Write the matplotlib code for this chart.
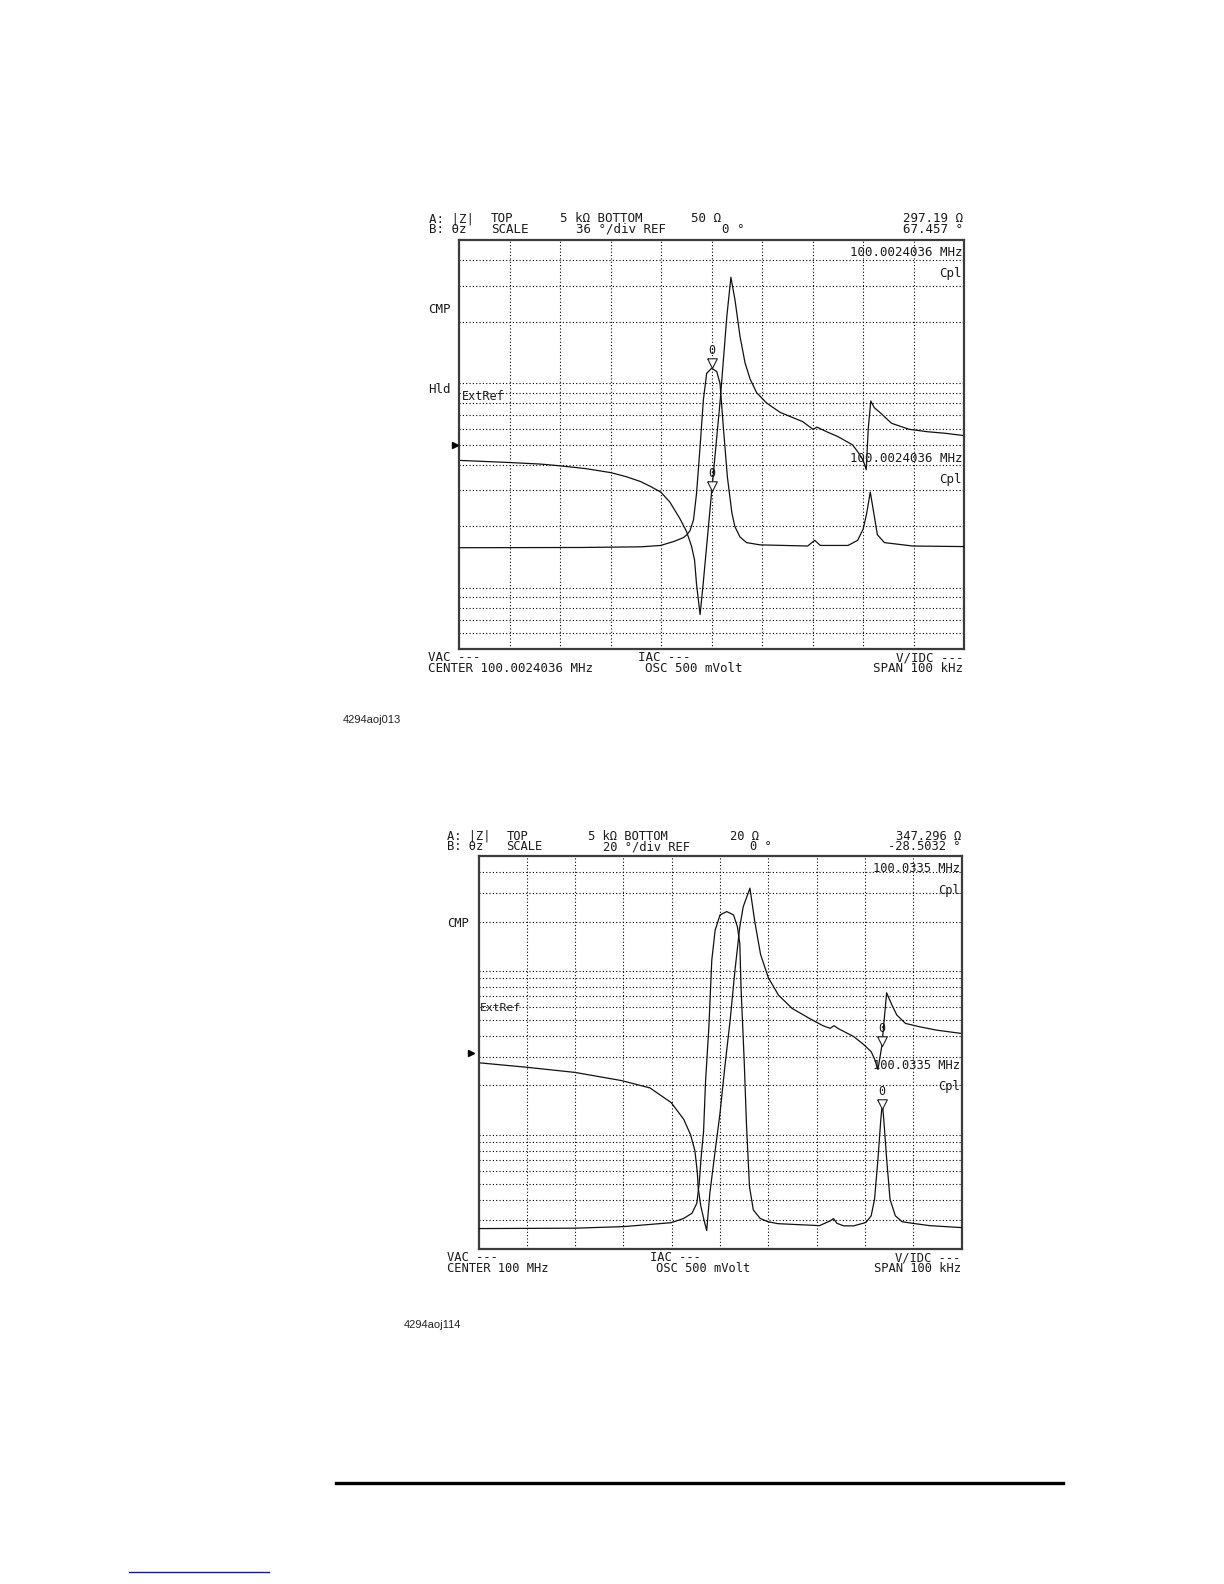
import matplotlib
matplotlib.use("Agg")
import matplotlib.pyplot as plt
from matplotlib.ticker import FixedLocator, NullLocator
from matplotlib.transforms import blended_transform_factory
from matplotlib.lines import Line2D

W, H = 1224, 1584
MONO = "DejaVu Sans Mono"

# ---- data: top screen (center 100.0024036 MHz, span 100 kHz), x in kHz from center
top_f_z = [-50, -45, -40, -34, -30, -25, -20, -17, -14.1, -12.1, -10.1, -8.3, -6.3, -5.0, -4.0,
           -3.4, -3.0, -2.3, -1.7, 0, 1.7, 3.0, 3.8, 4.6, 5.6, 6.6, 7.6, 8.9, 10.9, 13.6, 18,
           20.1, 20.8, 21.5, 22.9, 25, 27.9, 29.0, 30.0, 30.6, 31.0, 31.5, 32.2, 33.5, 35.6,
           39.1, 42.7, 46.2, 50]
top_z = [420, 415, 410, 403, 395, 383, 366, 350, 331, 313, 294, 263, 218, 189, 160,
         137, 104, 74, 104, 297, 835, 2130, 3300, 2570, 1700, 1260, 1050, 900, 800, 720, 650,
         595, 611, 600, 578, 549, 500, 460, 420, 378, 600, 820, 760, 714, 638,
         596, 580, 570, 555]
top_f_th = [-50, -26, -14, -10.1, -7.5, -5.6, -4.9, -4.3, -3.6, -3.0, -2.3, -1.65, -1.0, 0, 1.0,
            1.65, 2.3, 3.1, 4.0, 4.6, 5.6, 6.9, 9.6, 19.0, 20.4, 21.5, 27.0, 28.9, 30.0, 30.7,
            31.4, 32.1, 32.8, 34.2, 39.8, 50]
top_th = [-90.5, -90.3, -89.7, -88.5, -85, -81.6, -79, -75.5, -66, -42.6, -1.6, 39.5, 63, 67.5, 64.5,
          54, 16, -28, -60, -72, -81, -86, -88, -89, -84, -88.5, -88.5, -84, -74, -60,
          -41.5, -60, -79, -86, -89, -89.5]
top_grid_z = [60, 70, 80, 90, 100, 200, 300, 400, 500, 600, 700, 800, 900, 1000, 2000, 3000, 4000]
top_marker_f = 0.0
top_marker_z = 297.19
top_marker_th = 67.457

# ---- data: bottom screen (center 100 MHz, span 100 kHz)
bot_f_z = [-50, -40, -30, -20.4, -14.5, -10.1, -7.5, -6.1, -5.2, -4.7, -4.5, -4.0, -3.3, -2.75,
           -2.1, -1.0, 0, 1.0, 2.1, 3.1, 4.1, 4.8, 6.2, 7.2, 8.4, 10.0, 12.1, 14.9, 18.5,
           21.3, 22.8, 23.6, 24.5, 27.7, 29.9, 31.3, 32.0, 32.7, 33.5, 34.5, 35.6, 36.6, 38.4,
           41.3, 44.8, 50]
bot_z = [275, 258, 240, 214, 193, 157, 124, 100, 80, 59, 47, 37, 30, 26,
         44, 80, 135, 259, 500, 1009, 1857, 2460, 3200, 2000, 1260, 910, 712, 591, 513,
         463, 446, 463, 444, 397, 352, 321, 290, 250, 347, 735, 619, 538, 478,
         456, 435, 415]
bot_f_th = [-50, -30, -20, -10.1, -7.5, -5.8, -4.8, -4.3, -3.9, -3.4, -3.0, -2.3, -1.7, -1.0, 0,
            1.4, 2.8, 3.6, 4.1, 4.35, 5.0, 5.5, 6.1, 6.9, 8.3, 9.9, 12, 20.6, 22.8, 23.5, 24.2,
            25.6, 27.7, 30.2, 31.3, 32.0, 32.7, 33.3, 33.5, 33.7, 34.0, 34.5, 35.2, 36.3, 37.7,
            39.8, 43.4, 50]
bot_th = [-89.5, -89.3, -88.5, -86.5, -84.3, -81.7, -76.6, -66.4, -53, -40, -15, 13.3, 47.2, 62.5,
          70.2, 71.9, 70.2, 64.2, 55.7, 33.6, -3.6, -37.6, -68.1, -80, -84.3, -86, -87, -88, -85.6,
          -84.4, -86.8, -88.1, -88.1, -86.4, -83, -74.5, -54.2, -33.8, -28.5, -28, -37, -54, -74.5,
          -83, -86, -86.8, -88, -89]
bot_grid_z = [30, 40, 50, 60, 70, 80, 90, 100, 200, 300, 400, 500, 600, 700, 800, 900, 1000,
              2000, 3000, 4000]
bot_marker_f = 33.5
bot_marker_z = 347.296
bot_marker_th = -28.5032

x_grid = [-40, -30, -20, -10, 0, 10, 20, 30, 40]

fig = plt.figure(figsize=(W / 100, H / 100), dpi=100)
fig.patch.set_facecolor("white")


def px_axes(l, t, r, b):
    return fig.add_axes([l / W, 1 - b / H, (r - l) / W, (b - t) / H])


def ftxt(x, y, s, ha="left", size=9.0, **kw):
    # y is the visual middle of capital letters, in pixels from the top
    fig.text(x / W, 1 - (y + 3.8) / H, s, ha=ha, va="baseline", fontsize=size,
             family=MONO, color="#1a1a1a", **kw)


tri = [(-0.5, 1.0), (0.5, 1.0), (0.0, 0.0), (-0.5, 1.0)]


def screen(rect, zlim, grid_z, thlim, fz, z, fth, th, mk_f, mk_z, mk_th, ref_x):
    ax = px_axes(*rect)
    ax.set_xlim(-50, 50)
    ax.set_yscale("log")
    ax.set_ylim(*zlim)
    ax.xaxis.set_major_locator(FixedLocator(x_grid))
    ax.yaxis.set_major_locator(FixedLocator(grid_z))
    ax.xaxis.set_minor_locator(NullLocator())
    ax.yaxis.set_minor_locator(NullLocator())
    ax.tick_params(which="both", length=0, labelleft=False, labelbottom=False)
    ax.grid(True, linestyle=(0, (1, 2)), linewidth=0.8, color="black")
    for sp in ax.spines.values():
        sp.set_color("#3c3c3c")
        sp.set_linewidth(1.6)
    ax.plot(fz, z, color="#111111", lw=0.9)

    ax2 = ax.twinx()
    ax2.set_ylim(*thlim)
    ax2.set_yticks([])
    for sp in ax2.spines.values():
        sp.set_visible(False)
    ax2.plot(fth, th, color="#111111", lw=0.9)

    # markers (tip of the triangle on the trace) with their number
    for a, yv in ((ax, mk_z), (ax2, mk_th)):
        a.plot([mk_f], [yv], marker=tri, ms=14, mfc="white", mec="#222222", mew=0.8,
               ls="none", zorder=5)
        a.annotate("0", (mk_f, yv), xytext=(0, 12.5), textcoords="offset points",
                   ha="center", va="center", fontsize=8.5, family=MONO, color="#1a1a1a")

    # reference position pointer left of the frame
    tr = blended_transform_factory(ax2.transAxes, ax2.transData)
    ax2.plot([ref_x], [0], marker=">", ms=5, color="black", transform=tr, clip_on=False)
    return ax, ax2


# ---------------- top screen ----------------
screen((459.2, 240.4, 964.2, 649.4), (50, 5000), top_grid_z, (-180, 180),
       top_f_z, top_z, top_f_th, top_th, top_marker_f, top_marker_z, top_marker_th, -0.009)

ftxt(429, 218.5, "A: |Z|")
ftxt(491, 218.5, "TOP")
ftxt(560, 218.5, "5 kΩ BOTTOM")
ftxt(691, 218.5, "50 Ω")
ftxt(963, 218.5, f"{top_marker_z:.2f} Ω", ha="right")
ftxt(429, 229, "B: θz")
ftxt(491, 229, "SCALE")
ftxt(576, 229, "36 °/div REF")
ftxt(722, 229, "0 °")
ftxt(963, 229, f"{top_marker_th:.3f} °", ha="right")

ftxt(428, 309, "CMP")
ftxt(428, 389.5, "Hld")
ftxt(462, 396.5, "ExtRef", size=8.5)
ftxt(962, 252.5, "100.0024036 MHz", ha="right")
ftxt(962, 273.5, "Cpl", ha="right")
ftxt(962, 458, "100.0024036 MHz", ha="right")
ftxt(962, 479, "Cpl", ha="right")

ftxt(428, 657.5, "VAC ---")
ftxt(428, 668.5, "CENTER 100.0024036 MHz")
ftxt(638, 657.5, "IAC ---")
ftxt(645, 668.5, "OSC 500 mVolt")
ftxt(963, 657.5, "V/IDC ---", ha="right")
ftxt(963, 668.5, "SPAN 100 kHz", ha="right")

fig.text(343 / W, 1 - 723 / H, "4294aoj013", family="Liberation Sans", fontsize=8,
         color="#222222", ha="left", va="baseline")

# ---------------- bottom screen ----------------
screen((478.5, 856.4, 961.5, 1249.2), (20, 5000), bot_grid_z, (-100, 100),
       bot_f_z, bot_z, bot_f_th, bot_th, bot_marker_f, bot_marker_z, bot_marker_th, -0.015)

BS = 8.7
ftxt(447, 836, "A: |Z|", size=BS)
ftxt(506.5, 836, "TOP", size=BS)
ftxt(588.5, 836, "5 kΩ BOTTOM", size=BS)
ftxt(729.5, 836, "20 Ω", size=BS)
ftxt(961, 836, f"{bot_marker_z:.3f} Ω", ha="right", size=BS)
ftxt(447, 846.5, "B: θz", size=BS)
ftxt(506.5, 846.5, "SCALE", size=BS)
ftxt(603, 846.5, "20 °/div REF", size=BS)
ftxt(750, 846.5, "0 °", size=BS)
ftxt(961, 846.5, f"{bot_marker_th:.4f} °", ha="right", size=BS)

ftxt(447, 923, "CMP", size=BS)
ftxt(480, 1007.5, "ExtRef", size=8.2)
ftxt(960, 868.5, "100.0335 MHz", ha="right", size=BS)
ftxt(960, 890, "Cpl", ha="right", size=BS)
ftxt(960, 1065, "100.0335 MHz", ha="right", size=BS)
ftxt(960, 1086.5, "Cpl", ha="right", size=BS)

ftxt(447, 1257.3, "VAC ---", size=BS)
ftxt(447, 1268, "CENTER 100 MHz", size=BS)
ftxt(650, 1257.3, "IAC ---", size=BS)
ftxt(656.5, 1268, "OSC 500 mVolt", size=BS)
ftxt(960.5, 1257.3, "V/IDC ---", ha="right", size=BS)
ftxt(960.5, 1268, "SPAN 100 kHz", ha="right", size=BS)

fig.text(404 / W, 1 - 1328 / H, "4294aoj114", family="Liberation Sans", fontsize=8,
         color="#222222", ha="left", va="baseline")

# page rule and footer link underline
fig.add_artist(Line2D([336 / W, 1063 / W], [1 - 1482.5 / H] * 2, lw=2.4, color="black"))
fig.add_artist(Line2D([129 / W, 268.5 / W], [1 - 1572 / H] * 2, lw=1.0, color="#1c1c7a"))

fig.savefig("out.png", dpi=100, facecolor="white")
